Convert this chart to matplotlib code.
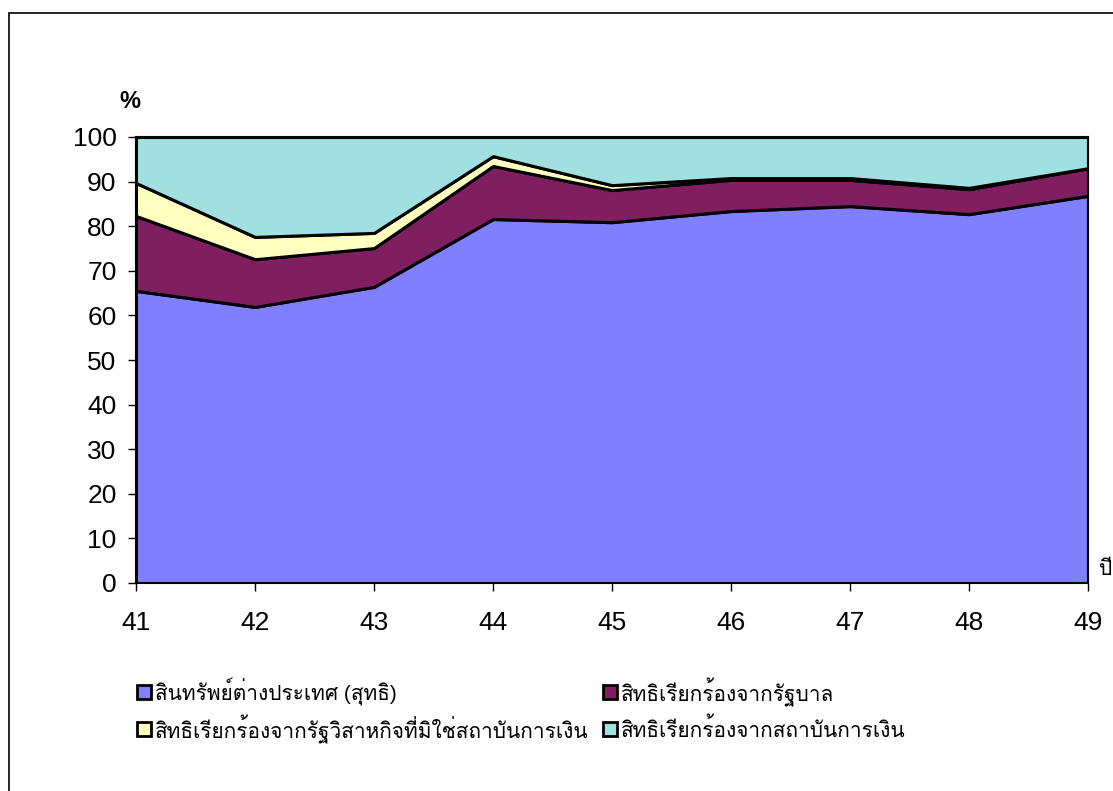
import matplotlib
matplotlib.use("Agg")
import matplotlib.pyplot as plt
from matplotlib import font_manager
from matplotlib.ft2font import FT2Font
from matplotlib.patches import Rectangle
import numpy as np

years = ["41", "42", "43", "44", "45", "46", "47", "48", "49"]
foreign_assets = [65.5, 61.9, 66.4, 81.6, 80.9, 83.4, 84.5, 82.7, 86.8]
claims_gov = [16.8, 10.7, 8.7, 11.9, 7.2, 7.0, 5.9, 5.6, 6.2]
claims_soe = [7.4, 5.0, 3.4, 2.2, 1.1, 0.4, 0.4, 0.3, 0.0]
claims_fin = [100 - a - b - c for a, b, c in zip(foreign_assets, claims_gov, claims_soe)]

labels = ["สินทรัพย์ต่างประเทศ (สุทธิ)", "สิทธิเรียกร้องจากรัฐบาล",
          "สิทธิเรียกร้องจากรัฐวิสาหกิจที่มิใช่สถาบันการเงิน", "สิทธิเรียกร้องจากสถาบันการเงิน"]
colors = ["#8080FF", "#7F1F5F", "#FFFFC0", "#A0E0E0"]

# find a font with Thai coverage
thai_fonts = []
seen = set()
for f in font_manager.fontManager.ttflist:
    if f.name in seen:
        continue
    try:
        cm = FT2Font(f.fname).get_charmap()
        if 0x0E2A in cm and 0x0E34 in cm:
            thai_fonts.append(f.name)
            seen.add(f.name)
    except Exception:
        pass
if "Loma" in thai_fonts:
    thai_fonts.remove("Loma")
    thai_fonts.insert(0, "Loma")
plt.rcParams['font.family'] = ["Liberation Sans"] + thai_fonts + ["DejaVu Sans"]

W, H = 1113, 791
fig = plt.figure(figsize=(W / 100, H / 100), dpi=100)
ax = fig.add_axes([136 / W, (H - 583) / H, (1088 - 136) / W, (583 - 137) / H])

x = np.arange(len(years))
ax.stackplot(x, foreign_assets, claims_gov, claims_soe, claims_fin,
             colors=colors, edgecolor="black", linewidth=2.2)
ax.set_xlim(0, len(years) - 1)
ax.set_ylim(0, 100)
ax.set_yticks(range(0, 101, 10))
ax.set_xticks(x)
ax.set_xticklabels(years)
ax.tick_params(axis="both", labelsize=19, length=6, width=1, direction="out")
ax.tick_params(axis="y", pad=8)
ax.tick_params(axis="x", pad=14)
for s in ax.spines.values():
    s.set_linewidth(1.5)

fig.text(130 / W, 1 - 101 / H, "%", fontsize=17, fontweight="bold", ha="center", va="center")
fig.text(1099 / W, 1 - 575 / H, "ปี", fontsize=15, ha="left", va="baseline")

# figure frame
fig.patches.append(Rectangle((8.5 / W, -0.1), 2, (H - 13.5) / H + 0.1, transform=fig.transFigure,
                             fill=False, edgecolor="black", linewidth=1.2))

positions = [(137, 692), (603, 692), (137, 729), (603, 729)]
for c, lab, (px, py) in zip(colors, labels, positions):
    fig.patches.append(Rectangle((px / W, 1 - (py + 7) / H), 14 / W, 14 / H,
                                 transform=fig.transFigure, facecolor=c,
                                 edgecolor="black", linewidth=2))
    fig.text((px + 18) / W, 1 - py / H, lab, fontsize=15, ha="left", va="center")

fig.savefig("out.png", dpi=100)
